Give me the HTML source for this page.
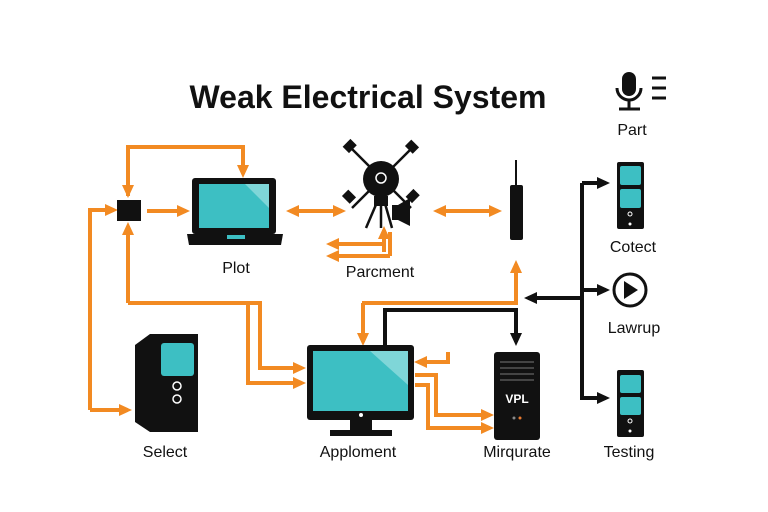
<!DOCTYPE html>
<html><head><style>
body{margin:0;background:#fff;}
svg{display:block;font-family:"Liberation Sans",sans-serif;}
</style></head><body>
<svg width="768" height="512" viewBox="0 0 768 512">
<defs>
<marker id="o" markerWidth="14" markerHeight="14" refX="9" refY="7" orient="auto" markerUnits="userSpaceOnUse"><path d="M0,1 L13,7 L0,13 z" fill="#f28a22"/></marker>
<marker id="k" markerWidth="14" markerHeight="14" refX="9" refY="7" orient="auto" markerUnits="userSpaceOnUse"><path d="M0,1 L13,7 L0,13 z" fill="#111"/></marker>
<marker id="os" markerWidth="14" markerHeight="14" refX="4" refY="7" orient="auto" markerUnits="userSpaceOnUse"><path d="M13,1 L0,7 L13,13 z" fill="#f28a22"/></marker>
</defs>
<rect width="768" height="512" fill="#fff"/>
<text x="368" y="108" font-size="32" font-weight="bold" text-anchor="middle" fill="#111">Weak Electrical System</text>
<!-- mic -->
<rect x="622" y="72" width="14" height="24" rx="7" fill="#111"/>
<path d="M617,88 a12,12 0 0 0 24,0" fill="none" stroke="#111" stroke-width="3"/>
<line x1="629" y1="100" x2="629" y2="108" stroke="#111" stroke-width="3"/>
<line x1="619" y1="109" x2="640" y2="109" stroke="#111" stroke-width="3"/>
<g stroke="#111" stroke-width="3"><line x1="652" y1="78" x2="666" y2="78"/><line x1="652" y1="88" x2="666" y2="88"/><line x1="652" y1="98" x2="666" y2="98"/></g>
<g font-size="16" fill="#111" text-anchor="middle">
<text x="632" y="135">Part</text><text x="236" y="273">Plot</text><text x="380" y="277">Parcment</text>
<text x="165" y="457">Select</text><text x="358" y="457">Apploment</text><text x="517" y="457">Mirqurate</text>
<text x="633" y="252">Cotect</text><text x="634" y="333">Lawrup</text><text x="629" y="457">Testing</text>
</g>
<!-- orange connectors -->
<g fill="none" stroke="#f28a22" stroke-width="4">
<path d="M128,196 V147 H243 V174" marker-end="url(#o)"/>
<path d="M128,160 V194" marker-end="url(#o)"/>
<path d="M90,410 V210 H114" marker-end="url(#o)"/>
<path d="M90,410 H128" marker-end="url(#o)"/>
<path d="M147,211 H186" marker-end="url(#o)"/>
<path d="M128,303 V226" marker-end="url(#o)"/>
<path d="M128,303 H260 V368 H302" marker-end="url(#o)"/>
<path d="M248,303 V383 H302" marker-end="url(#o)"/>
<path d="M290,211 H342" marker-end="url(#o)" marker-start="url(#os)"/>
<path d="M437,211 H498" marker-end="url(#o)" marker-start="url(#os)"/>
<path d="M384,252 V230" marker-end="url(#o)"/>
<path d="M384,244 H330" marker-end="url(#o)"/>
<path d="M390,256 H330" marker-end="url(#o)"/>
<path d="M390,256 V232"/>
<path d="M363,303 V342" marker-end="url(#o)"/>
<path d="M362,303 H516 V264" marker-end="url(#o)"/>
<path d="M448,352 V362 H418" marker-end="url(#o)"/>
<path d="M415,375 H436 V415 H490" marker-end="url(#o)"/>
<path d="M415,385 H428 V428 H490" marker-end="url(#o)"/>
</g>
<!-- black connectors -->
<g fill="none" stroke="#111" stroke-width="4">
<path d="M385,345 V310 H516 V342" marker-end="url(#k)"/>
<path d="M582,183 V400"/>
<path d="M582,183 H606" marker-end="url(#k)"/>
<path d="M582,290 H606" marker-end="url(#k)"/>
<path d="M582,398 H606" marker-end="url(#k)"/>
<path d="M582,298 H528" marker-end="url(#k)"/>
</g>
<!-- small box -->
<rect x="117" y="200" width="24" height="21" fill="#111"/>
<!-- laptop -->
<rect x="192" y="178" width="84" height="56" rx="3" fill="#111"/>
<rect x="199" y="184" width="70" height="44" fill="#3dbfc3"/>
<path d="M245,184 L269,184 L269,208 Z" fill="#7fd6d8"/>
<path d="M187,234 H283 L281,245 H189 Z" fill="#111"/>
<rect x="227" y="235" width="18" height="4" fill="#3dbfc3"/>
<!-- camera -->
<g stroke="#111" stroke-width="2.5">
<line x1="352" y1="149" x2="411" y2="208"/><line x1="411" y1="149" x2="352" y2="208"/>
</g>
<g fill="#111">
<rect x="344" y="142" width="11" height="9" transform="rotate(-45 349 146)"/>
<rect x="407" y="142" width="11" height="9" transform="rotate(45 412 146)"/>
<rect x="344" y="192" width="11" height="9" transform="rotate(45 349 196)"/>
<rect x="407" y="192" width="11" height="9" transform="rotate(-45 412 196)"/>
</g>
<circle cx="381" cy="179" r="18" fill="#111"/>
<circle cx="381" cy="178" r="5" fill="none" stroke="#fff" stroke-width="1.5"/>
<g stroke="#111" stroke-width="2.5"><line x1="378" y1="200" x2="366" y2="228"/><line x1="381" y1="200" x2="381" y2="228"/><line x1="384" y1="200" x2="392" y2="228"/></g>
<rect x="374" y="196" width="14" height="10" fill="#111"/>
<path d="M392,205 H398 L410,198 V226 L398,220 H392 Z" fill="#111"/>
<!-- vertical device -->
<line x1="516" y1="160" x2="516" y2="186" stroke="#111" stroke-width="2"/>
<rect x="510" y="185" width="13" height="55" rx="2" fill="#111"/>
<!-- select tower -->
<path d="M135,345 L150,334 H198 V432 H150 L135,422 Z" fill="#111"/>
<rect x="161" y="343" width="33" height="33" rx="3" fill="#3dbfc3"/>
<circle cx="177" cy="386" r="4" fill="none" stroke="#fff" stroke-width="1.5"/>
<circle cx="177" cy="399" r="4" fill="none" stroke="#fff" stroke-width="1.5"/>
<!-- monitor -->
<rect x="307" y="345" width="107" height="75" rx="3" fill="#111"/>
<rect x="313" y="351" width="95" height="60" fill="#3dbfc3"/>
<path d="M370,351 H408 V385 Z" fill="#7fd6d8"/>
<rect x="350" y="420" width="22" height="10" fill="#111"/>
<rect x="330" y="430" width="62" height="6" fill="#111"/>
<circle cx="361" cy="415" r="2" fill="#fff"/>
<!-- server -->
<rect x="494" y="352" width="46" height="88" rx="3" fill="#111"/>
<g stroke="#777" stroke-width="1"><line x1="500" y1="362" x2="534" y2="362"/><line x1="500" y1="368" x2="534" y2="368"/><line x1="500" y1="374" x2="534" y2="374"/><line x1="500" y1="380" x2="534" y2="380"/></g>
<text x="517" y="403" font-size="12" font-weight="bold" fill="#fff" text-anchor="middle">VPL</text>
<circle cx="514" cy="418" r="1.5" fill="#888"/><circle cx="520" cy="418" r="1.5" fill="#e87a30"/>
<!-- cotect tower -->
<rect x="617" y="162" width="27" height="67" rx="2" fill="#111"/>
<rect x="620" y="166" width="21" height="19" rx="2" fill="#3dbfc3"/>
<rect x="620" y="189" width="21" height="19" rx="2" fill="#3dbfc3"/>
<circle cx="630" cy="214" r="2" fill="none" stroke="#fff"/><circle cx="630" cy="224" r="1.5" fill="#fff"/>
<!-- lawrup -->
<circle cx="630" cy="290" r="16" fill="#fff" stroke="#111" stroke-width="3"/>
<path d="M624,281 L638,290 L624,299 Z" fill="#111"/>
<!-- testing tower -->
<rect x="617" y="370" width="27" height="67" rx="2" fill="#111"/>
<rect x="620" y="375" width="21" height="18" rx="2" fill="#3dbfc3"/>
<rect x="620" y="397" width="21" height="18" rx="2" fill="#3dbfc3"/>
<circle cx="630" cy="421" r="2" fill="none" stroke="#fff"/><circle cx="630" cy="431" r="1.5" fill="#fff"/>
</svg>
</body></html>
